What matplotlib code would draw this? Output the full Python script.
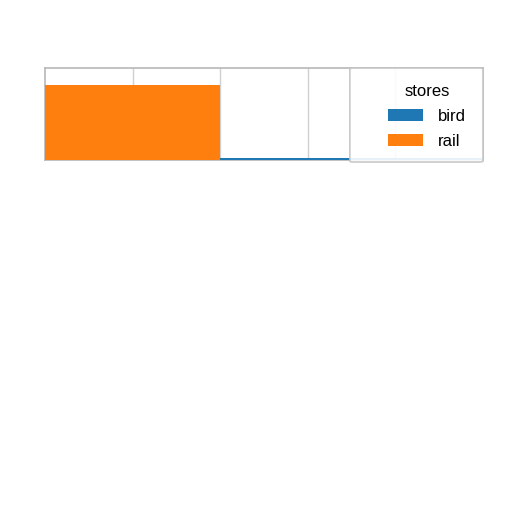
import matplotlib.pyplot as plt
from matplotlib.patches import FancyBboxPatch

plt.rcParams["font.family"] = ["Liberation Sans", "DejaVu Sans"]

bin_edges = [0, 1, 2, 3, 4, 5]
bird = [0.0, 0.0, 0.17, 0.17, 0.17]
rail = [8.0, 8.0, 0.0, 0.0, 0.0]
series = {"bird": bird, "rail": rail}
colors = {"bird": "#1f77b4", "rail": "#ff7f0e"}

fig = plt.figure(figsize=(5.12, 5.12), dpi=100)
ax = fig.add_axes([45 / 512, 1 - 160 / 512, 438 / 512, 92 / 512])

for name, values in series.items():
    ax.bar(bin_edges[:-1], values, width=1, align="edge", color=colors[name],
           label=name, linewidth=0, zorder=3)

ax.set_xlim(bin_edges[0], bin_edges[-1])
ax.set_ylim(0, 9.8)
ax.set_xticks(bin_edges[1:-1])
ax.set_yticks([])
ax.tick_params(length=0, labelbottom=False)
ax.grid(axis="x", color="#d0d0d0", linewidth=1, zorder=0)
for spine in ax.spines.values():
    spine.set_color("#b8b8b8")
    spine.set_linewidth(1.2)
    spine.set_zorder(2)

# legend frame (wider than the content, as in the original)
frame = FancyBboxPatch((0.696, -0.022), 0.304, 1.022, transform=ax.transAxes,
                       boxstyle="round,pad=0,rounding_size=0.01",
                       facecolor="white", edgecolor="#c4c4c4", alpha=0.9,
                       linewidth=1.2, zorder=4, clip_on=False)
ax.add_patch(frame)

leg = ax.legend(title="stores", loc="center", bbox_to_anchor=(0.872, 0.473),
                fontsize=12, title_fontsize=12, frameon=False,
                handlelength=2.1, handleheight=0.7, handletextpad=0.9,
                labelspacing=0.6)
leg.set_zorder(5)

fig.savefig("out.png", dpi=100, facecolor="white")
